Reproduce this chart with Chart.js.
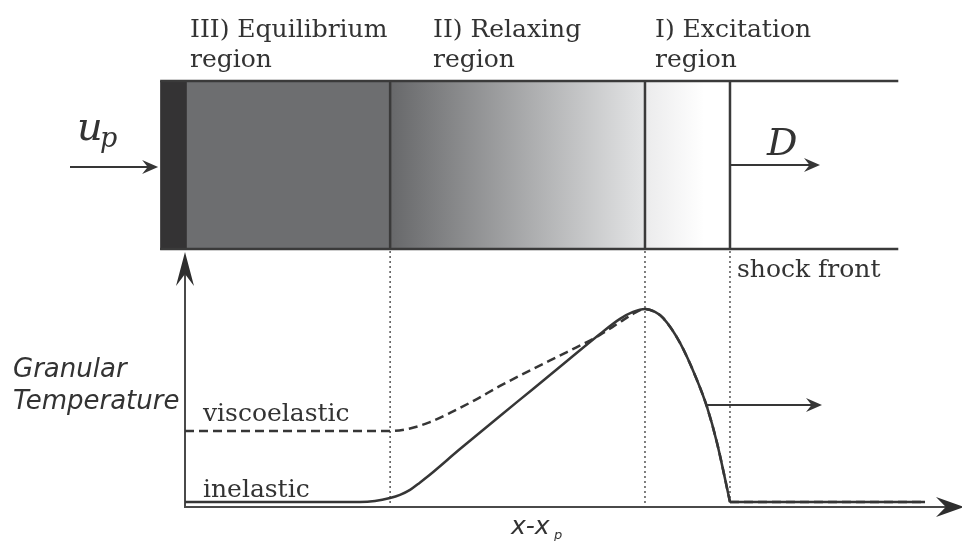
<!DOCTYPE html>
<html>
<head>
<meta charset="utf-8">
<script src="https://cdn.jsdelivr.net/npm/chart.js@4"></script>
<style>
  body { margin: 0; background: #fff; }
  #wrap { width: 962px; height: 541px; position: relative; }
</style>
</head>
<body>
<div id="wrap"><canvas id="shockChart"></canvas></div>
<script>
// position x - x_p (arbitrary units) and granular temperature (peak = 1)
const inelasticX = [0, 22.5, 24.45, 26.38, 27.67, 28.96, 29.99, 31.15, 35.39, 40.54, 44.79, 49.16, 53.41, 55.98, 57.66, 59.2, 60.49, 61.52, 63.71, 65.89, 67.18, 68.47, 70.14, 95.24];
const inelasticT = [0.025, 0.025, 0.030, 0.045, 0.061, 0.086, 0.116, 0.151, 0.292, 0.459, 0.595, 0.736, 0.872, 0.948, 0.983, 0.998, 0.983, 0.953, 0.827, 0.640, 0.504, 0.323, 0.025, 0.025];
const viscoX = [0, 26.38, 28.96, 31.53, 34.11, 37.32, 40.54, 44.79, 49.16, 53.41, 55.98, 57.66, 59.2, 60.49, 61.52, 63.71, 65.89, 67.18, 68.47, 70.14, 95.24];
const viscoT = [0.383, 0.383, 0.396, 0.428, 0.474, 0.539, 0.610, 0.696, 0.781, 0.867, 0.932, 0.973, 0.998, 0.983, 0.953, 0.827, 0.640, 0.504, 0.323, 0.025, 0.025];

// region boundaries along x - x_p
const pistonEdges = [-3.2, 0.25];
const regionEdges = [26.4, 59.2, 70.14];
const tubeEnd = 91.8;
const regionNames = [['III) Equilibrium', 'region'], ['II) Relaxing', 'region'], ['I) Excitation', 'region']];
const curveNames = ['viscoelastic', 'inelastic'];

const ink = '#363636';

function toPoints(xs, ys) {
  return xs.map((x, i) => ({ x: x, y: ys[i] }));
}

// the curves have a kink at the shock front, so split them there
function behindShock(xs, ys) {
  const k = xs.indexOf(regionEdges[2]);
  return toPoints(xs, ys).slice(0, k + 1);
}
function aheadOfShock(xs, ys) {
  const k = xs.indexOf(regionEdges[2]);
  return toPoints(xs, ys).slice(k);
}

function arrow(ctx, x1, y1, x2, y2, len, half) {
  const a = Math.atan2(y2 - y1, x2 - x1);
  ctx.beginPath();
  ctx.moveTo(x1, y1);
  ctx.lineTo(x2 - Math.cos(a) * len * 0.6, y2 - Math.sin(a) * len * 0.6);
  ctx.stroke();
  ctx.save();
  ctx.translate(x2, y2);
  ctx.rotate(a);
  ctx.beginPath();
  ctx.moveTo(0, 0);
  ctx.lineTo(-len, -half);
  ctx.lineTo(-len * 0.65, 0);
  ctx.lineTo(-len, half);
  ctx.closePath();
  ctx.fill();
  ctx.restore();
}

const sketch = {
  id: 'sketch',
  beforeDatasetsDraw(chart) {
    const ctx = chart.ctx;
    const xs = chart.scales.x;
    const area = chart.chartArea;
    const px = v => xs.getPixelForValue(v);
    const tubeTop = 81, tubeBot = 249;
    const e0 = px(pistonEdges[1]), e1 = px(regionEdges[0]), e2 = px(regionEdges[1]), e3 = px(regionEdges[2]);
    ctx.save();
    // equilibrium block
    ctx.fillStyle = '#6d6e70';
    ctx.fillRect(e0, tubeTop, e1 - e0, tubeBot - tubeTop);
    // relaxing gradient
    let g = ctx.createLinearGradient(e1, 0, e2, 0);
    g.addColorStop(0, '#67686a');
    g.addColorStop(1, '#e4e5e6');
    ctx.fillStyle = g;
    ctx.fillRect(e1, tubeTop, e2 - e1, tubeBot - tubeTop);
    // excitation gradient
    g = ctx.createLinearGradient(e2, 0, e2 + (e3 - e2) * 0.7, 0);
    g.addColorStop(0, '#ebebec');
    g.addColorStop(1, '#ffffff');
    ctx.fillStyle = g;
    ctx.fillRect(e2, tubeTop, e3 - e2, tubeBot - tubeTop);
    // piston
    const p0 = px(pistonEdges[0]);
    ctx.fillStyle = '#343334';
    ctx.fillRect(p0, tubeTop, e0 - p0, tubeBot - tubeTop + 1);
    // tube walls
    ctx.strokeStyle = '#3a3a3a';
    ctx.lineWidth = 2.5;
    ctx.beginPath();
    ctx.moveTo(p0, tubeTop); ctx.lineTo(px(tubeEnd), tubeTop);
    ctx.moveTo(p0, tubeBot); ctx.lineTo(px(tubeEnd), tubeBot);
    [e1, e2, e3].forEach(x => { ctx.moveTo(x, tubeTop); ctx.lineTo(x, tubeBot); });
    ctx.stroke();
    // dotted guides
    ctx.strokeStyle = '#555';
    ctx.lineWidth = 1.5;
    ctx.setLineDash([2, 3]);
    ctx.beginPath();
    [e1, e2, e3].forEach(x => { ctx.moveTo(x, tubeBot + 2); ctx.lineTo(x, area.bottom); });
    ctx.stroke();
    ctx.setLineDash([]);
    // axes
    ctx.strokeStyle = '#4a4a4a';
    ctx.fillStyle = '#2e2e2e';
    ctx.lineWidth = 2;
    arrow(ctx, area.left, area.bottom + 1, area.left, area.top - 3, 34, 9);
    arrow(ctx, area.left, area.bottom, area.right + 2, area.bottom, 28, 10);
    ctx.restore();
  },
  afterDatasetsDraw(chart) {
    const ctx = chart.ctx;
    const xs = chart.scales.x;
    const px = v => xs.getPixelForValue(v);
    ctx.save();
    ctx.fillStyle = '#333';
    ctx.textBaseline = 'alphabetic';
    ctx.font = '25px "DejaVu Serif"';
    const titleX = [190, 433, 655];
    regionNames.forEach((lines, i) => {
      ctx.fillText(lines[0], titleX[i], 37);
      ctx.fillText(lines[1], titleX[i], 67);
    });
    ctx.fillText('shock front', 737, 277);
    // curve labels
    ctx.fillText(curveNames[0], 203, 421);
    ctx.fillText(curveNames[1], 203, 497);
    // y title
    ctx.font = 'italic 26px "DejaVu Sans"';
    ctx.fillText('Granular', 13, 377);
    ctx.fillText('Temperature', 13, 409);
    // x title
    ctx.font = 'italic 25px "DejaVu Sans"';
    ctx.fillText('x-x', 511, 534);
    ctx.font = 'italic 13px "DejaVu Sans"';
    ctx.fillText('p', 554, 539);
    // u_p and D
    ctx.font = 'italic 40px "DejaVu Serif"';
    ctx.fillText('u', 77, 140);
    ctx.font = 'italic 27px "DejaVu Serif"';
    ctx.fillText('p', 100, 147);
    ctx.font = 'italic 38px "DejaVu Serif"';
    ctx.fillText('D', 767, 155);
    // arrows
    ctx.strokeStyle = ink;
    ctx.fillStyle = ink;
    ctx.lineWidth = 2;
    arrow(ctx, 70, 167, px(pistonEdges[0]) - 2, 167, 16, 7);
    arrow(ctx, px(regionEdges[2]), 165, 820, 165, 16, 7);
    arrow(ctx, 705, 405, 822, 405, 16, 7);
    ctx.restore();
  }
};

const solid = { borderColor: ink, borderWidth: 2.5, pointRadius: 0, cubicInterpolationMode: 'monotone' };
const dashed = Object.assign({}, solid, { borderDash: [9, 5] });

new Chart(document.getElementById('shockChart'), {
  type: 'line',
  data: {
    datasets: [
      Object.assign({ label: curveNames[1], data: behindShock(inelasticX, inelasticT) }, solid),
      Object.assign({ label: curveNames[1], data: aheadOfShock(inelasticX, inelasticT) }, solid),
      Object.assign({ label: curveNames[0], data: behindShock(viscoX, viscoT) }, dashed),
      Object.assign({ label: curveNames[0], data: aheadOfShock(viscoX, viscoT) }, dashed)
    ]
  },
  options: {
    responsive: true,
    maintainAspectRatio: false,
    animation: false,
    layout: { padding: { left: 185, right: 0, top: 255, bottom: 34 } },
    plugins: { legend: { display: false }, tooltip: { enabled: false } },
    scales: {
      x: { type: 'linear', min: 0, max: 100, display: false },
      y: { min: 0, max: 1.27, display: false }
    }
  },
  plugins: [sketch]
});
</script>
</body>
</html>
